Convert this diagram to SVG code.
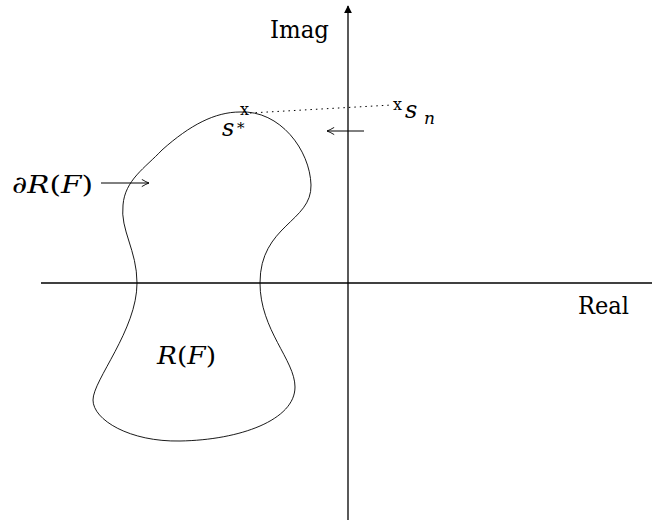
<svg xmlns="http://www.w3.org/2000/svg" width="652" height="521" viewBox="0 0 652 521">
<style>
text{font-family:"DejaVu Serif","Liberation Serif",serif;fill:#000}
.i{font-style:italic}
.ax{stroke:#000;stroke-width:1.3;fill:none}
.arr{stroke:#000;stroke-width:1;fill:none}
</style>
<defs>
<marker id="ah" viewBox="0 0 10 10" refX="9" refY="5" markerWidth="8" markerHeight="8" markerUnits="userSpaceOnUse" orient="auto">
<path d="M0,0 L10,5 L0,10 Z" fill="#000"/>
</marker>
<marker id="oh" viewBox="0 0 10 10" refX="9" refY="5" markerWidth="9" markerHeight="9" markerUnits="userSpaceOnUse" orient="auto">
<path d="M1,1 Q6,4 9,5 Q6,6 1,9" fill="none" stroke="#000" stroke-width="1"/>
</marker>
</defs>
<rect width="652" height="521" fill="#fff"/>
<g id="connectors">
<line class="ax" x1="41" y1="283" x2="652" y2="283"/>
<line class="ax" x1="348" y1="520" x2="348" y2="6" marker-end="url(#ah)"/>
<line x1="250" y1="113" x2="392" y2="105" stroke="#000" stroke-width="1" stroke-dasharray="1.5,4"/>
<line class="arr" x1="101" y1="183" x2="149" y2="183" marker-end="url(#oh)"/>
<line class="arr" x1="364" y1="131" x2="327" y2="131" marker-end="url(#oh)"/>
</g>
<g id="region">
<path d="M240,112 C280,110 310,150 311,185 C312,222 260,225 260,283 C260,330 295,360 295,387 C295,420 240,440 180,441 C130,442 93,420 93,400 C93,380 137,330 137,283 C137,250 120,230 123,205 C125,180 145,168 162,150 C190,125 215,112 240,112 Z" fill="none" stroke="#000" stroke-width="0.9"/>
</g>
<g id="labels">
<text x="270" y="38" font-size="24" textLength="59" lengthAdjust="spacingAndGlyphs">Imag</text>
<text x="578" y="314" font-size="24" textLength="51" lengthAdjust="spacingAndGlyphs">Real</text>
<text x="157" y="364" font-size="24" textLength="59" lengthAdjust="spacingAndGlyphs"><tspan class="i">R</tspan>(<tspan class="i">F</tspan>)</text>
<text x="12" y="193" font-size="24" textLength="81" lengthAdjust="spacingAndGlyphs"><tspan class="i">∂R</tspan>(<tspan class="i">F</tspan>)</text>
<text x="240" y="115" font-size="16">x</text>
<text class="i" x="222" y="136" font-size="24">s</text>
<text x="237" y="133" font-size="15">*</text>
<text x="393" y="110" font-size="16">x</text>
<text class="i" x="405" y="118" font-size="24">s</text>
<text class="i" x="424" y="124" font-size="17">n</text>
</g>
</svg>
